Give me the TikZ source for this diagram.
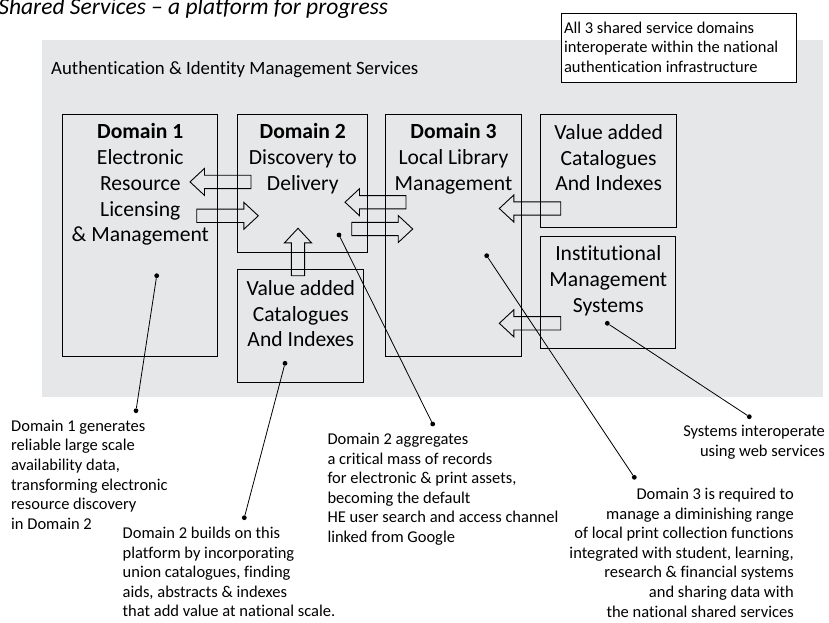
\documentclass[tikz,border=0pt]{standalone}
\usepackage{fontspec}
\setmainfont[Ligatures={TeX,NoCommon}]{Carlito}
\usetikzlibrary{calc}
\definecolor{bggray}{RGB}{230,231,232}
\newcommand\fstrut[1]{\rule{0pt}{#1}}
\tikzset{
  box/.style={draw=black, line width=1pt, inner sep=0pt, anchor=north west},
  boxtext/.style={inner sep=0pt, align=center, anchor=north, font=\fontsize{21.6}{25.8}\selectfont},
  calltext/.style={inner sep=0pt, font=\fontsize{16.5}{19.6}\selectfont},
  dot/.style={circle, fill=black, inner sep=0pt, minimum size=4.8pt},
  callline/.style={draw=black, line width=0.8pt},
  barrow/.style={draw=black, line width=0.9pt, line join=miter},
}
\newcommand\blockarr[3]{%
  \coordinate (#1s) at (#2);
  \coordinate (#1t) at (#3);
  \coordinate (#1b) at ($(#1t)!14.5pt!(#1s)$);
  \draw[barrow] ($(#1s)!6.65pt!90:(#1t)$) -- ($(#1b)!6.65pt!-90:(#1s)$)
    -- ($(#1b)!13.5pt!-90:(#1s)$) -- (#1t) -- ($(#1b)!13.5pt!90:(#1s)$)
    -- ($(#1b)!6.65pt!90:(#1s)$) -- ($(#1s)!6.65pt!-90:(#1t)$) -- cycle;
}
\begin{document}
\begin{tikzpicture}[x=1pt,y=-1pt]
\useasboundingbox (0,0) rectangle (829,622);

% title
\node[inner sep=0pt, anchor=base east, font=\fontsize{23.5}{28}\selectfont\itshape] (title) at (388.3,14) {Shared Services – a platform for progress};

% background panel
\node[fill=bggray, inner sep=0pt, minimum width=781pt, minimum height=356.5pt, anchor=north west] (bg) at (41.7,40) {};
\node[inner sep=0pt, anchor=base west, font=\fontsize{18.8}{23}\selectfont] (auth) at (51,74) {Authentication \& Identity Management Services};

% note box
\node[draw=black, line width=1pt, fill=white, inner sep=0pt, minimum width=235pt, minimum height=69pt, anchor=north west] (note) at (561,13) {};
\node[calltext, align=left, anchor=north west] (notet) at (563.8,15) {\fstrut{18pt}All 3 shared service domains\\interoperate within the national\\authentication infrastructure};

% boxes
\node[box, minimum width=155pt, minimum height=241.7pt] (d1) at (62.3,114.3) {};
\node[box, minimum width=130pt, minimum height=138pt] (d2) at (237.3,114.3) {};
\node[box, minimum width=126pt, minimum height=112.7pt] (vab) at (237.3,269) {};
\node[box, minimum width=135.4pt, minimum height=241.7pt] (d3) at (385.3,114.3) {};
\node[box, minimum width=135.7pt, minimum height=112.4pt] (var) at (540.3,114.3) {};
\node[box, minimum width=135pt, minimum height=112pt] (inst) at (540.3,235.7) {};

% box texts (first-line strut of 22pt: node top = first baseline - 22)
\node[boxtext] (d1t) at ($(d1.north)+(0,2.2)$) {\fstrut{22pt}\textbf{Domain 1}\\Electronic\\Resource\\Licensing\\\& Management};
\node[boxtext] (d2t) at ($(d2.north)+(0,2.2)$) {\fstrut{22pt}\textbf{Domain 2}\\Discovery to\\Delivery};
\node[boxtext] (d3t) at ($(d3.north)+(0,2.2)$) {\fstrut{22pt}\textbf{Domain 3}\\Local Library\\Management};
\node[boxtext] (vart) at ($(var.north)+(0,2.7)$) {\fstrut{22pt}Value added\\Catalogues\\And Indexes};
\node[boxtext] (instt) at ($(inst.north)+(0,3)$) {\fstrut{22pt}Institutional\\Management\\Systems};
\node[boxtext] (vabt) at ($(vab.north)+(0,4)$) {\fstrut{22pt}Value added\\Catalogues\\And Indexes};

% block arrows
\blockarr{aA}{251,181.9}{190,181.9}
\blockarr{aB}{196.7,215.8}{258.3,215.8}
\blockarr{aC}{298,275.7}{298,228.3}
\blockarr{aD}{406,202.2}{345,202.2}
\blockarr{aE}{351.7,229}{412.7,229}
\blockarr{aF}{560.7,208.5}{499.3,208.5}
\blockarr{aG}{560.7,323.3}{499.3,323.3}

% callout dots
\node[dot] (p1) at (156.7,275.7) {};
\node[dot] (q1) at (136,410.7) {};
\node[dot] (p2) at (285,363.3) {};
\node[dot] (q2) at (244.3,517.7) {};
\node[dot] (p3) at (339,235) {};
\node[dot] (q3) at (432.7,424) {};
\node[dot] (p4) at (486.7,255.7) {};
\node[dot] (q4) at (634.3,477.3) {};
\node[dot] (p5) at (607.3,323.3) {};
\node[dot] (q5) at (749.3,416.7) {};
\draw[callline] (p1) -- (q1);
\draw[callline] (p2) -- (q2);
\draw[callline] (p3) -- (q3);
\draw[callline] (p4) -- (q4);
\draw[callline] (p5) -- (q5);

% callout texts (first-line strut of 18pt: node top = first baseline - 18)
\node[calltext, align=left, anchor=north west] (c1) at (11,413) {\fstrut{18pt}Domain 1 generates\\reliable large scale\\availability data,\\transforming electronic\\resource discovery\\in Domain 2};
\node[calltext, align=left, anchor=north west] (c2) at (122.5,520.3) {\fstrut{18pt}Domain 2 builds on this\\platform by incorporating\\union catalogues, finding\\aids, abstracts \& indexes\\that add value at national scale.};
\node[calltext, align=left, anchor=north west] (c3) at (327.3,426.3) {\fstrut{18pt}Domain 2 aggregates\\a critical mass of records\\for electronic \& print assets,\\becoming the default\\HE user search and access channel\\linked from Google};
\node[calltext, align=right, anchor=north east] (c4) at (794,481.3) {\fstrut{18pt}Domain 3 is required to\\manage a diminishing range\\of local print collection functions\\integrated with student, learning,\\research \& financial systems\\and sharing data with\\the national shared services};
\node[calltext, align=right, anchor=north east] (c5) at (825,418.7) {\fstrut{18pt}Systems interoperate\\using web services};
\end{tikzpicture}
\end{document}
